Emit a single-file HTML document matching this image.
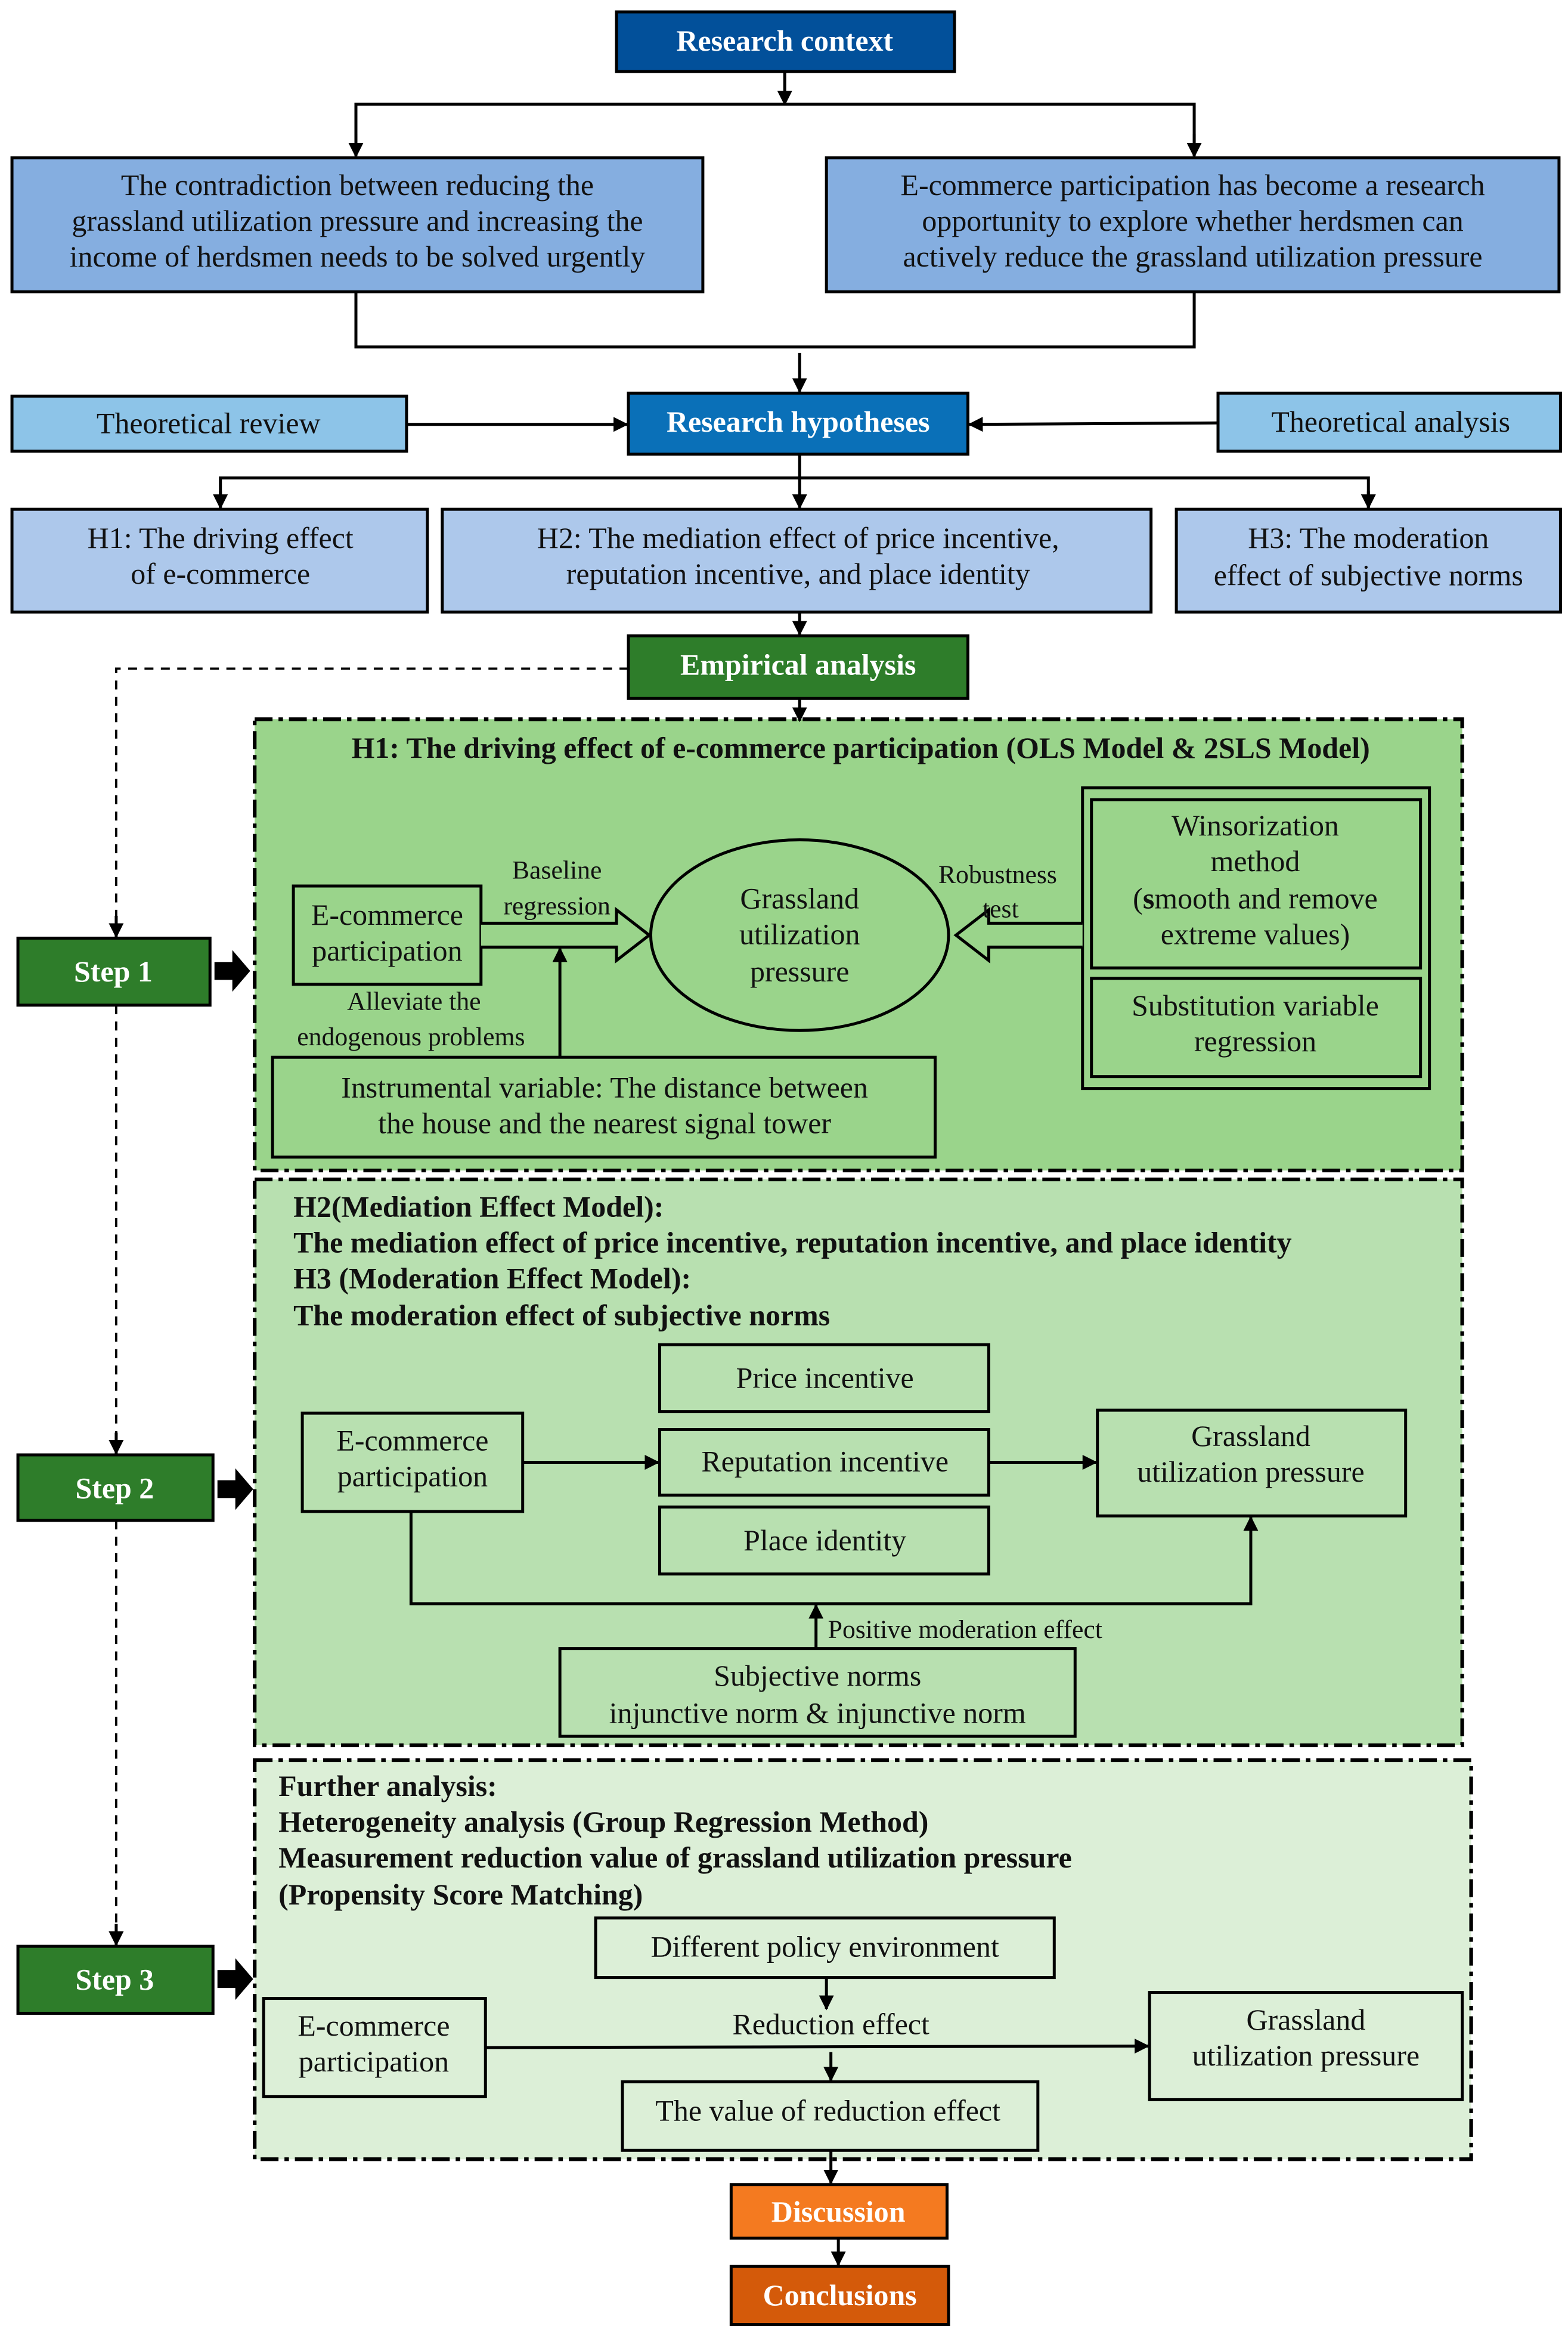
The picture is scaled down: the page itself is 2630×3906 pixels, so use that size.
<!DOCTYPE html>
<html><head><meta charset="utf-8"><style>
html,body{margin:0;padding:0;background:#fff;}
svg{display:block;}
text{font-family:"Liberation Serif",serif;font-size:20px;fill:#111;}
.w{fill:#fff;font-weight:bold;}
.b{font-weight:bold;}
.s{font-size:17.5px;}
</style></head><body>
<svg width="2630" height="3906" viewBox="0 0 1053 1564" xmlns="http://www.w3.org/2000/svg">
<defs>
<marker id="a" viewBox="0 0 10 10" refX="9" refY="5" markerWidth="5" markerHeight="5" orient="auto"><path d="M0,0L10,5L0,10z" fill="#000"/></marker>
</defs>
<g stroke="#000" stroke-width="2" fill="none">
<line x1="527" y1="48" x2="527" y2="70" marker-end="url(#a)"/>
<polyline points="239,104 239,70 802,70 802,104" />
<line x1="239" y1="90" x2="239" y2="105" marker-end="url(#a)"/>
<line x1="802" y1="90" x2="802" y2="105" marker-end="url(#a)"/>
<polyline points="239,196 239,233 802,233 802,196"/>
<line x1="537" y1="237" x2="537" y2="263" marker-end="url(#a)"/>
<line x1="273" y1="285" x2="421" y2="285" marker-end="url(#a)"/>
<line x1="818" y1="284" x2="651" y2="285" marker-end="url(#a)"/>
<line x1="537" y1="305" x2="537" y2="341" marker-end="url(#a)"/>
<polyline points="148,341 148,321 919,321 919,341"/>
<line x1="148" y1="330" x2="148" y2="341" marker-end="url(#a)"/>
<line x1="919" y1="330" x2="919" y2="341" marker-end="url(#a)"/>
<line x1="537" y1="411" x2="537" y2="426" marker-end="url(#a)"/>
</g>
<g stroke="#000" stroke-width="2">
<rect x="414" y="8" width="227" height="40" fill="#02509a"/>
<rect x="8" y="106" width="464" height="90" fill="#85aee0"/>
<rect x="555" y="106" width="492" height="90" fill="#85aee0"/>
<rect x="8" y="266" width="265" height="37" fill="#8dc4e8"/>
<rect x="422" y="264" width="228" height="41" fill="#0a70b8"/>
<rect x="818" y="264" width="230" height="39" fill="#8dc4e8"/>
<rect x="8" y="342" width="279" height="69" fill="#adc8eb"/>
<rect x="297" y="342" width="476" height="69" fill="#adc8eb"/>
<rect x="790" y="342" width="258" height="69" fill="#adc8eb"/>
<rect x="422" y="427" width="228" height="42" fill="#2e7d2a"/>
</g>
<g text-anchor="middle">
<text x="527" y="34" class="w">Research context</text>
<text x="240" y="131">The contradiction between reducing the</text>
<text x="240" y="155">grassland utilization pressure and increasing the</text>
<text x="240" y="179">income of herdsmen needs to be solved urgently</text>
<text x="801" y="131">E-commerce participation has become a research</text>
<text x="801" y="155">opportunity to explore whether herdsmen can</text>
<text x="801" y="179">actively reduce the grassland utilization pressure</text>
<text x="140" y="291">Theoretical review</text>
<text x="536" y="290" class="w">Research hypotheses</text>
<text x="934" y="290">Theoretical analysis</text>
<text x="148" y="368">H1: The driving effect</text>
<text x="148" y="392">of e-commerce</text>
<text x="536" y="368">H2: The mediation effect of price incentive,</text>
<text x="536" y="392">reputation incentive, and place identity</text>
<text x="919" y="368">H3: The moderation</text>
<text x="919" y="393">effect of subjective norms</text>
<text x="536" y="453" class="w">Empirical analysis</text>
</g>
<g stroke="#000" stroke-width="2.5" stroke-dasharray="12,4,3,4">
<rect x="171" y="483" width="811" height="303" fill="#9ad48b"/>
<rect x="171" y="792" width="811" height="380" fill="#b8e0b0"/>
<rect x="171" y="1182" width="817" height="268" fill="#dcefd7"/>
</g>
<line x1="537" y1="469" x2="537" y2="484" stroke="#000" stroke-width="2" marker-end="url(#a)"/>
<g stroke="#000" stroke-width="1.5" fill="none" stroke-dasharray="6,5">
<polyline points="422,449 78,449 78,628"/>
<line x1="78" y1="675" x2="78" y2="975"/>
<line x1="78" y1="1021" x2="78" y2="1305"/>
</g>
<g stroke="#000" stroke-width="2">
<line x1="78" y1="615" x2="78" y2="629" marker-end="url(#a)"/>
<line x1="78" y1="962" x2="78" y2="976" marker-end="url(#a)"/>
<line x1="78" y1="1292" x2="78" y2="1306" marker-end="url(#a)"/>
</g>
<g stroke="#000" stroke-width="2">
<rect x="12" y="630" width="129" height="45" fill="#2e7d2a"/>
<rect x="12" y="977" width="131" height="44" fill="#2e7d2a"/>
<rect x="12" y="1307" width="131" height="45" fill="#2e7d2a"/>
</g>
<g fill="#000">
<path d="M144,646h12v-8l12,14l-12,14v-8h-12z"/>
<path d="M146,994h12v-8l12,14l-12,14v-8h-12z"/>
<path d="M146,1323h12v-8l12,14l-12,14v-8h-12z"/>
</g>
<g text-anchor="middle">
<text x="76" y="659" class="w">Step 1</text>
<text x="77" y="1006" class="w">Step 2</text>
<text x="77" y="1336" class="w">Step 3</text>
</g>
<text x="578" y="509" class="b" text-anchor="middle">H1: The driving effect of e-commerce participation (OLS Model &amp; 2SLS Model)</text>
<g stroke="#000" stroke-width="2" fill="none">
<rect x="197" y="595" width="126" height="66"/>
<ellipse cx="537" cy="628" rx="100" ry="64"/>
<rect x="727" y="529" width="233" height="202"/>
<rect x="733" y="537" width="221" height="113"/>
<rect x="733" y="657" width="221" height="66"/>
<rect x="183" y="710" width="445" height="67"/>
<path d="M323,620H414v-9l22,17l-22,17v-9H323" fill="#9ad48b"/>
<path d="M727,620H664v-9l-22,17l22,17v-9H727" fill="#9ad48b"/>
<line x1="376" y1="710" x2="376" y2="637" marker-end="url(#a)"/>
</g>
<g text-anchor="middle">
<text x="260" y="621">E-commerce</text>
<text x="260" y="645">participation</text>
<text x="374" y="590" class="s">Baseline</text>
<text x="374" y="614" class="s">regression</text>
<text x="278" y="678" class="s">Alleviate the</text>
<text x="276" y="702" class="s">endogenous problems</text>
<text x="537" y="610">Grassland</text>
<text x="537" y="634">utilization</text>
<text x="537" y="659">pressure</text>
<text x="670" y="593" class="s">Robustness</text>
<text x="672" y="616" class="s">test</text>
<text x="843" y="561">Winsorization</text>
<text x="843" y="585">method</text>
<text x="843" y="610">(<tspan class="b">s</tspan>mooth and remove</text>
<text x="843" y="634">extreme values)</text>
<text x="843" y="682">Substitution variable</text>
<text x="843" y="706">regression</text>
<text x="406" y="737">Instrumental variable: The distance between</text>
<text x="406" y="761">the house and the nearest signal tower</text>
</g>
<text x="197" y="817" class="b">H2(Mediation Effect Model):</text>
<text x="197" y="841" class="b">The mediation effect of price incentive, reputation incentive, and place identity</text>
<text x="197" y="865" class="b">H3 (Moderation Effect Model):</text>
<text x="197" y="890" class="b">The moderation effect of subjective norms</text>
<g stroke="#000" stroke-width="2" fill="none">
<rect x="443" y="903" width="221" height="45"/>
<rect x="443" y="960" width="221" height="44"/>
<rect x="443" y="1012" width="221" height="45"/>
<rect x="203" y="949" width="148" height="66"/>
<rect x="737" y="947" width="207" height="71"/>
<rect x="376" y="1107" width="346" height="59"/>
<line x1="351" y1="982" x2="442" y2="982" marker-end="url(#a)"/>
<line x1="664" y1="982" x2="736" y2="982" marker-end="url(#a)"/>
<polyline points="276,1015 276,1077 840,1077 840,1019" marker-end="url(#a)"/>
<line x1="548" y1="1107" x2="548" y2="1078" marker-end="url(#a)"/>
</g>
<g text-anchor="middle">
<text x="554" y="932">Price incentive</text>
<text x="554" y="988">Reputation incentive</text>
<text x="554" y="1041">Place identity</text>
<text x="277" y="974">E-commerce</text>
<text x="277" y="998">participation</text>
<text x="840" y="971">Grassland</text>
<text x="840" y="995">utilization pressure</text>
<text x="549" y="1132">Subjective norms</text>
<text x="549" y="1157">injunctive norm &amp; injunctive norm</text>
</g>
<text x="556" y="1100" class="s">Positive moderation effect</text>
<text x="187" y="1206" class="b">Further analysis:</text>
<text x="187" y="1230" class="b">Heterogeneity analysis (Group Regression Method)</text>
<text x="187" y="1254" class="b">Measurement reduction value of grassland utilization pressure</text>
<text x="187" y="1279" class="b">(Propensity Score Matching)</text>
<g stroke="#000" stroke-width="2" fill="none">
<rect x="400" y="1288" width="308" height="40"/>
<rect x="177" y="1342" width="149" height="66"/>
<rect x="772" y="1338" width="210" height="72"/>
<rect x="418" y="1398" width="279" height="46"/>
<line x1="555" y1="1328" x2="555" y2="1349" marker-end="url(#a)"/>
<line x1="326" y1="1375" x2="771" y2="1374" marker-end="url(#a)"/>
<line x1="558" y1="1378" x2="558" y2="1397" marker-end="url(#a)"/>
<line x1="558" y1="1444" x2="558" y2="1466" marker-end="url(#a)"/>
<line x1="563" y1="1503" x2="563" y2="1521" marker-end="url(#a)"/>
</g>
<g text-anchor="middle">
<text x="554" y="1314">Different policy environment</text>
<text x="251" y="1367">E-commerce</text>
<text x="251" y="1391">participation</text>
<text x="558" y="1366">Reduction effect</text>
<text x="877" y="1363">Grassland</text>
<text x="877" y="1387">utilization pressure</text>
<text x="556" y="1424">The value of reduction effect</text>
</g>
<g stroke="#000" stroke-width="2">
<rect x="491" y="1467" width="145" height="36" fill="#f47a20"/>
<rect x="491" y="1522" width="146" height="39" fill="#d45a0a"/>
</g>
<g text-anchor="middle">
<text x="563" y="1492" class="w">Discussion</text>
<text x="564" y="1548" class="w">Conclusions</text>
</g>
</svg>
</body></html>
